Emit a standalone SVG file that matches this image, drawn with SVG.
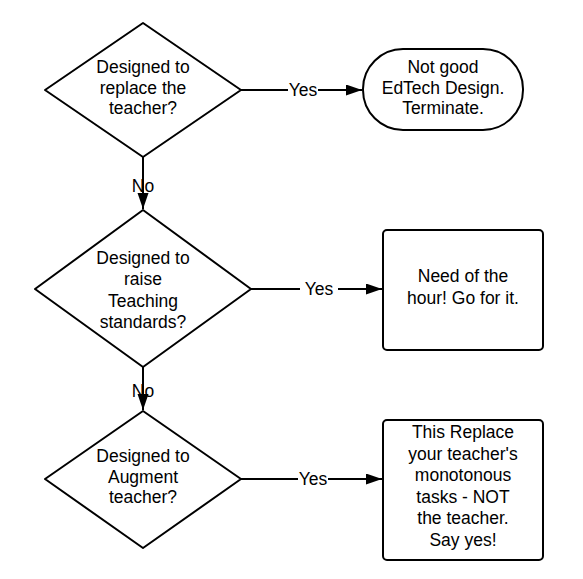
<svg xmlns="http://www.w3.org/2000/svg" width="583" height="579" viewBox="0 0 583 579">
<defs>
<style>
.shape{fill:#fff;stroke:#000;stroke-width:2;stroke-linejoin:round}
.t{font-family:"Liberation Sans",Arial,sans-serif;font-size:17.5px;fill:#000;text-anchor:middle}
.c{fill:none;stroke:#000;stroke-width:2}
.lbl{fill:#fff}
</style>
<marker id="ah" markerUnits="userSpaceOnUse" markerWidth="17" markerHeight="12" refX="16" refY="5.5" orient="auto">
<path d="M0,0 L16,5.5 L0,11 z" fill="#000"/>
</marker>
</defs>
<rect width="583" height="579" fill="#fff"/>
<g id="connectors">
<line class="c" x1="241" y1="90" x2="362" y2="90" marker-end="url(#ah)"/>
<rect class="lbl" x="288" y="80" width="30" height="20"/>
<text class="t" x="303" y="96">Yes</text>
<line class="c" x1="143" y1="157" x2="143" y2="209" marker-end="url(#ah)"/>
<text class="t" x="143" y="192">No</text>
<line class="c" x1="251" y1="289" x2="382" y2="289" marker-end="url(#ah)"/>
<rect class="lbl" x="300" y="279" width="38" height="20"/>
<text class="t" x="319" y="295">Yes</text>
<line class="c" x1="143" y1="367" x2="143" y2="410" marker-end="url(#ah)"/>
<text class="t" x="143" y="397">No</text>
<line class="c" x1="241" y1="479" x2="382" y2="479" marker-end="url(#ah)"/>
<rect class="lbl" x="298" y="469" width="30" height="20"/>
<text class="t" x="313" y="485">Yes</text>
</g>
<g id="d1">
<path class="shape" d="M143,23 L241,90 L143,157 L45,90 Z"/>
<text class="t" x="143" y="73">Designed to</text>
<text class="t" x="143" y="94">replace the</text>
<text class="t" x="143" y="114">teacher?</text>
</g>
<g id="t1">
<rect class="shape" x="363" y="49" width="160" height="81" rx="40" ry="40"/>
<text class="t" x="443" y="73">Not good</text>
<text class="t" x="443" y="94">EdTech Design.</text>
<text class="t" x="443" y="114">Terminate.</text>
</g>
<g id="d2">
<path class="shape" d="M143,210 L251,289 L143,367 L35,289 Z"/>
<text class="t" x="143" y="264">Designed to</text>
<text class="t" x="143" y="285">raise</text>
<text class="t" x="143" y="307">Teaching</text>
<text class="t" x="143" y="328">standards?</text>
</g>
<g id="b2">
<rect class="shape" x="383" y="230" width="160" height="120" rx="4" ry="4"/>
<text class="t" x="463" y="282">Need of the</text>
<text class="t" x="463" y="304">hour! Go for it.</text>
</g>
<g id="d3">
<path class="shape" d="M143,411 L241,479 L143,548 L45,479 Z"/>
<text class="t" x="143" y="462">Designed to</text>
<text class="t" x="143" y="483">Augment</text>
<text class="t" x="143" y="503">teacher?</text>
</g>
<g id="b3">
<rect class="shape" x="383" y="420" width="160" height="140" rx="4" ry="4"/>
<text class="t" x="463" y="438">This Replace</text>
<text class="t" x="463" y="460">your teacher's</text>
<text class="t" x="463" y="481">monotonous</text>
<text class="t" x="463" y="503">tasks - NOT</text>
<text class="t" x="463" y="524">the teacher.</text>
<text class="t" x="463" y="546">Say yes!</text>
</g>
</svg>
